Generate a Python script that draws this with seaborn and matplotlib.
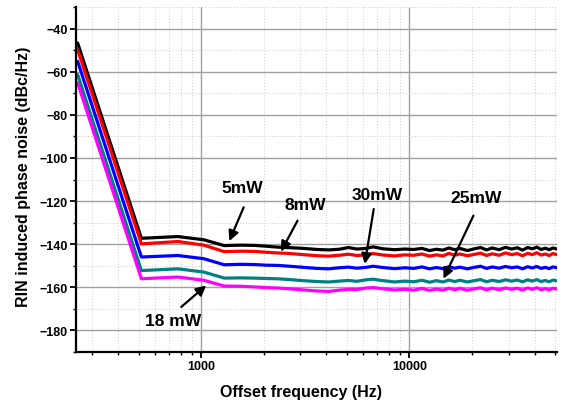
import numpy as np
import pandas as pd
import matplotlib
matplotlib.use("Agg")
import matplotlib.pyplot as plt
import matplotlib.ticker as mticker
import seaborn as sns

# -------- DATA --------
freq_hz = [255, 516, 773, 1030, 1290, 1550, 1800, 2060, 2320, 2580, 2840, 3100,
           3600, 4100, 4600, 5100, 5600, 6200, 6700, 7500, 8500, 9500, 10500,
           11500, 12500, 13500, 14500, 15500, 16500, 17500, 19000, 20500, 22000,
           23500, 25000, 27000, 29000, 31000, 33000, 35000, 37000, 39000, 41000,
           43000, 45000, 47000, 49000, 51200]

noise_5mw = [-46.6, -137.3, -136.5, -138.0, -140.7, -140.5, -140.6, -141.0, -141.4,
             -141.6, -141.8, -142.0, -142.5, -142.7, -142.4, -141.6, -142.3, -142.0,
             -141.3, -142.2, -142.6, -142.3, -142.5, -142.0, -143.0, -142.4, -142.8,
             -141.8, -142.6, -142.0, -143.0, -142.2, -141.6, -142.7, -141.8, -142.6,
             -141.5, -142.3, -141.7, -142.8, -141.6, -142.2, -141.4, -142.5, -141.9,
             -142.6, -141.8, -142.3]
noise_8mw = [-49.7, -139.9, -138.8, -140.5, -143.5, -143.3, -143.4, -143.8, -144.1,
             -144.3, -144.6, -144.9, -145.4, -145.6, -145.2, -144.7, -145.3, -145.0,
             -144.4, -145.1, -145.5, -145.0, -145.2, -144.6, -145.6, -145.0, -145.5,
             -144.3, -145.2, -144.6, -145.4, -144.8, -144.2, -145.3, -144.5, -145.2,
             -144.1, -144.9, -144.4, -145.4, -144.3, -144.9, -144.0, -145.1, -144.6,
             -145.3, -144.4, -144.9]
noise_30mw = [-55.1, -146.0, -145.3, -146.8, -149.6, -149.4, -149.5, -149.8, -149.9,
              -150.2, -150.5, -150.8, -151.3, -151.5, -151.0, -150.7, -151.2, -150.8,
              -150.3, -150.9, -151.4, -151.0, -151.3, -150.6, -151.5, -150.9, -151.4,
              -150.5, -151.2, -150.7, -151.5, -150.8, -150.3, -151.3, -150.6, -151.2,
              -150.4, -151.0, -150.6, -151.5, -150.5, -151.1, -150.4, -151.3, -150.8,
              -151.4, -150.6, -151.0]
noise_25mw = [-61.3, -152.3, -151.5, -153.0, -155.8, -155.7, -155.8, -156.0, -156.1,
              -156.4, -156.7, -157.0, -157.4, -157.6, -157.2, -156.9, -157.3, -156.6,
              -156.3, -157.0, -157.6, -157.2, -157.5, -156.8, -157.7, -157.0, -157.6,
              -156.7, -157.4, -156.8, -157.6, -157.0, -156.5, -157.5, -156.8, -157.4,
              -156.6, -157.2, -156.7, -157.5, -156.6, -157.2, -156.5, -157.4, -156.9,
              -157.5, -156.7, -157.1]
noise_18mw = [-65.1, -156.1, -155.3, -156.8, -159.5, -159.6, -159.9, -160.2, -160.4,
              -160.7, -161.0, -161.3, -161.8, -162.0, -161.4, -161.0, -161.1, -160.4,
              -160.2, -160.8, -161.3, -161.0, -161.4, -160.6, -161.5, -160.9, -161.4,
              -160.5, -161.2, -160.6, -161.4, -160.8, -160.3, -161.3, -160.5, -161.2,
              -160.4, -161.0, -160.5, -161.4, -160.4, -161.0, -160.3, -161.2, -160.7,
              -161.3, -160.5, -160.9]

series_names = ["5mW", "8mW", "30mW", "25mW", "18 mW"]
series_colors = ["#000000", "#ff0000", "#0000ff", "#008080", "#ff00ff"]

# label text, text position, arrow tail, arrow head (data coords)
labels = ["5mW", "8mW", "30mW", "25mW", "18 mW"]
label_xy = [(1571, -113.5), (3148, -121.7), (7030, -116.8), (20940, -118.5), (735, -175.3)]
arrow_tail = [(1600, -122.9), (2904, -129.1), (6746, -123.7), (20320, -126.8), (802, -169.2)]
arrow_head = [(1365, -138.6), (2417, -143.5), (6110, -149.2), (14590, -156.1), (1057, -159.2)]

# -------- BUILD LONG TABLE --------
frames = []
for name, vals in zip(series_names, [noise_5mw, noise_8mw, noise_30mw, noise_25mw, noise_18mw]):
    frames.append(pd.DataFrame({"freq": freq_hz, "noise": vals, "power": name}))
df = pd.concat(frames, ignore_index=True)

# -------- PLOT --------
sns.set_style("white")
plt.rcParams["font.family"] = ["Liberation Sans", "DejaVu Sans"]
plt.rcParams["font.weight"] = "bold"
plt.rcParams["text.color"] = "black"
plt.rcParams["axes.labelcolor"] = "black"
plt.rcParams["xtick.color"] = "black"
plt.rcParams["ytick.color"] = "black"

fig = plt.figure(figsize=(5.62, 4.02), dpi=100)
ax = fig.add_axes([0.135, 0.1226, 0.856, 0.8567])

sns.lineplot(data=df, x="freq", y="noise", hue="power", hue_order=series_names,
             palette=series_colors, linewidth=2.3, legend=False, ax=ax, sort=False)

ax.set_xscale("log")
ax.set_xlim(250, 51200)
ax.set_ylim(-190, -30)

ax.yaxis.set_major_locator(mticker.FixedLocator(np.arange(-180, -39, 20)))
ax.yaxis.set_minor_locator(mticker.FixedLocator(np.arange(-190, -29, 20)))
ax.xaxis.set_major_locator(mticker.FixedLocator([1000, 10000]))
ax.xaxis.set_minor_locator(mticker.LogLocator(base=10, subs=np.arange(2, 10), numticks=20))
ax.xaxis.set_major_formatter(mticker.FuncFormatter(lambda v, p: f"{int(v)}"))
ax.xaxis.set_minor_formatter(mticker.NullFormatter())

ax.grid(which="major", color="#a0a0a0", linewidth=1.0, linestyle="-")
ax.grid(which="minor", color="#cccccc", linewidth=0.7, linestyle=(0, (1, 2)))
ax.set_axisbelow(True)

for side in ["top", "right"]:
    ax.spines[side].set_visible(False)
for side in ["left", "bottom"]:
    ax.spines[side].set_linewidth(1.6)
    ax.spines[side].set_color("black")

ax.tick_params(which="major", direction="out", length=4, width=1.3, color="black",
               labelsize=9, pad=2, left=True, bottom=True, labelcolor="black")
ax.tick_params(which="minor", direction="out", length=2.5, width=1.0, color="black",
               left=True, bottom=True)
for lab in ax.get_xticklabels() + ax.get_yticklabels():
    lab.set_fontweight("bold")

ax.set_xlabel("Offset frequency (Hz)", fontsize=11.5, fontweight="bold", color="black")
ax.set_ylabel("RIN induced phase noise (dBc/Hz)", fontsize=11.5, fontweight="bold", color="black")
ax.xaxis.set_label_coords(0.468, -0.095)
ax.yaxis.set_label_coords(-0.093, 0.51)

for text, txy, tail, head in zip(labels, label_xy, arrow_tail, arrow_head):
    ax.text(txy[0], txy[1], text, fontsize=12.5, fontweight="bold",
            ha="center", va="center", color="black")
    ax.annotate("", xy=head, xytext=tail,
                arrowprops=dict(arrowstyle="-|>,head_length=0.6,head_width=0.3",
                                color="black", lw=1.6, shrinkA=0, shrinkB=0))

fig.savefig("out.png", dpi=100)
